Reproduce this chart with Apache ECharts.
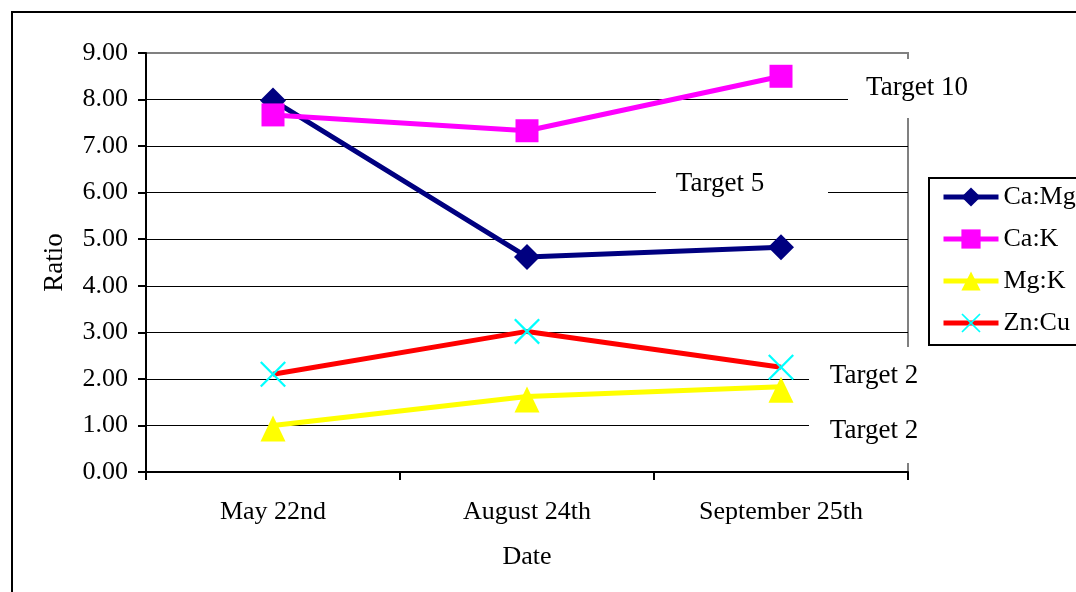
<!DOCTYPE html>
<html>
<head>
<meta charset="utf-8">
<script src="https://cdn.jsdelivr.net/npm/echarts@6/dist/echarts.min.js"></script>
<style>
  html, body { margin: 0; padding: 0; background: #fff; }
  #chart { width: 1076px; height: 592px; }
</style>
</head>
<body>
<div id="chart"></div>
<script>
// Sampling dates
const dates = ['May 22nd', 'August 24th', 'September 25th'];

// Nutrient ratios per sampling date
const caMg = [7.98, 4.62, 4.83];
const caK = [7.67, 7.33, 8.5];
const mgK = [1.0, 1.62, 1.83];
const znCu = [2.1, 3.02, 2.25];

// Value axis range
const yMin = 0;
const yMax = 9;
const yStep = 1;

const FONT = '"Liberation Serif", "Times New Roman", serif';

// Thin "x" cross drawn as a filled outline
const crossSymbol = 'path://M0,1.6L1.6,0L13,11.4L24.4,0L26,1.6L14.6,13L26,24.4L24.4,26L13,14.6L1.6,26L0,24.4L11.4,13Z';

// Horizontal grid lines: black, the top one grey like the plot frame
const splitColors = [];
for (let v = yMin; v <= yMax; v += yStep) splitColors.push(v === yMax ? '#808080' : '#000000');

const chart = echarts.init(document.getElementById('chart'), null, { renderer: 'canvas' });

// Target notes: white boxes that cut the gridlines, with their captions
function noteBox(x, y, w, h) {
  return { type: 'rect', z: 50, silent: true, shape: { x: x, y: y, width: w, height: h }, style: { fill: '#ffffff' } };
}
function noteText(text, cx, cy) {
  return {
    type: 'text', z: 51, silent: true, x: cx, y: cy,
    style: { text: text, fill: '#000', font: '27px ' + FONT, align: 'center', verticalAlign: 'middle' }
  };
}

chart.setOption({
  animation: false,
  backgroundColor: '#ffffff',
  grid: {
    left: 146, right: 168, top: 53, bottom: 120,
    show: true, borderColor: '#808080', borderWidth: 2, backgroundColor: 'transparent'
  },
  legend: {
    orient: 'vertical',
    left: 929, top: 178,
    padding: [6, 60, 9, 12],
    itemGap: 16,
    itemWidth: 55,
    itemHeight: 24,
    borderColor: '#000', borderWidth: 2,
    lineStyle: { width: 5 },
    textStyle: { fontFamily: FONT, fontSize: 26, color: '#000', lineHeight: 24 },
    data: ['Ca:Mg', 'Ca:K', 'Mg:K', 'Zn:Cu']
  },
  xAxis: {
    type: 'category',
    data: dates,
    boundaryGap: true,
    name: 'Date',
    nameLocation: 'middle',
    nameGap: 72,
    nameTextStyle: { fontFamily: FONT, fontSize: 26, color: '#000' },
    axisLine: { lineStyle: { color: '#000', width: 2 } },
    axisTick: { show: true, length: 8, lineStyle: { color: '#000', width: 2 } },
    axisLabel: { margin: 27, fontFamily: FONT, fontSize: 26, color: '#000' },
    splitLine: { show: false }
  },
  yAxis: {
    type: 'value',
    min: yMin, max: yMax, interval: yStep,
    name: 'Ratio',
    nameLocation: 'middle',
    nameRotate: 90,
    nameGap: 78,
    nameTextStyle: { fontFamily: FONT, fontSize: 27, color: '#000' },
    axisLine: { show: true, lineStyle: { color: '#000', width: 2 } },
    axisTick: { show: true, length: 8, lineStyle: { color: '#000', width: 2 } },
    axisLabel: { margin: 18, fontFamily: FONT, fontSize: 26, color: '#000', formatter: v => v.toFixed(2) },
    splitLine: { show: true, lineStyle: { color: splitColors, width: 1 } }
  },
  series: [
    {
      name: 'Ca:Mg', type: 'line', data: caMg,
      symbol: 'diamond', symbolSize: 26,
      lineStyle: { color: '#000080', width: 5 },
      itemStyle: { color: '#000080' }
    },
    {
      name: 'Ca:K', type: 'line', data: caK,
      symbol: 'rect', symbolSize: 23,
      lineStyle: { color: '#FF00FF', width: 5 },
      itemStyle: { color: '#FF00FF' }
    },
    {
      name: 'Mg:K', type: 'line', data: mgK,
      symbol: 'triangle', symbolSize: [25, 26], symbolOffset: [0, 3],
      lineStyle: { color: '#FFFF00', width: 5 },
      itemStyle: { color: '#FFFF00' }
    },
    {
      name: 'Zn:Cu', type: 'line', data: znCu,
      symbol: crossSymbol, symbolSize: 26,
      lineStyle: { color: '#FF0000', width: 5 },
      itemStyle: { color: '#00FFFF' }
    }
  ],
  graphic: [
    { type: 'rect', z: 0, silent: true, shape: { x: 12, y: 12, width: 1100, height: 620 }, style: { fill: 'none', stroke: '#000', lineWidth: 2 } },
    noteBox(848, 59, 75, 59),
    noteText('Target 10', 917, 88),
    noteBox(656, 166, 172, 34),
    noteText('Target 5', 720, 184),
    noteBox(809, 347, 110, 116),
    noteText('Target 2', 874, 376),
    noteText('Target 2', 874, 431)
  ]
});
</script>
</body>
</html>
